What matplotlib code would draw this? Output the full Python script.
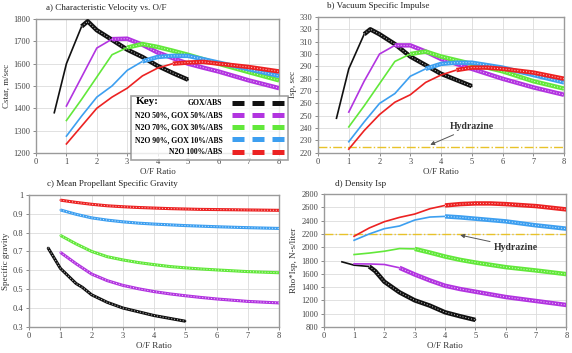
import matplotlib.pyplot as plt
import matplotlib.ticker as mticker
from matplotlib.lines import Line2D

plt.rcParams['font.family'] = ['Liberation Serif', 'DejaVu Serif']

# ---- data ----
names = ['GOX/ABS', 'N2O 50%, GOX 50%/ABS', 'N2O 70%, GOX 30%/ABS',
         'N2O 90%, GOX 10%/ABS', 'N2O 100%/ABS']
colors = ['#111111', '#b234e0', '#62e83a', '#3d9ff0', '#ec2222']

x_gox = [0.6, 1.0, 1.5, 1.7, 2.0, 2.5, 3.0, 3.5, 4.0, 4.5, 5.0]
x_mix = [1.0, 1.5, 2.0, 2.5, 3.0, 3.5, 4.0, 4.5, 5.0, 5.5, 6.0, 7.0, 8.0]

# a) characteristic velocity, m/s
cstar_gox = [1380, 1600, 1767, 1790, 1750, 1707, 1663, 1630, 1590, 1558, 1528]
cstar_n50 = [1410, 1540, 1670, 1710, 1712, 1685, 1650, 1625, 1600, 1582, 1565, 1525, 1490]
cstar_n70 = [1345, 1440, 1540, 1640, 1672, 1688, 1675, 1658, 1640, 1620, 1600, 1562, 1525]
cstar_n90 = [1275, 1365, 1450, 1500, 1570, 1610, 1630, 1635, 1635, 1620, 1605, 1575, 1545]
cstar_n100 = [1240, 1320, 1400, 1450, 1490, 1545, 1580, 1600, 1605, 1608, 1600, 1585, 1565]

# b) vacuum Isp, s
isp_gox = [248, 288, 316, 320, 316, 308, 298, 291, 284, 279, 274]
isp_n50 = [253, 278, 300, 307, 307, 302, 296, 292, 288, 284, 280, 273, 267]
isp_n70 = [241, 258, 276, 294, 300, 302, 298, 295, 292, 289, 286, 278, 272]
isp_n90 = [229, 245, 260, 268, 282, 288, 292, 293, 293, 291, 289, 283, 277]
isp_n100 = [223, 238, 251, 261, 267, 277, 283, 287, 289, 289, 288, 285, 280]

# c) mean propellant specific gravity
sg_gox = [0.72, 0.61, 0.53, 0.51, 0.47, 0.43, 0.40, 0.38, 0.36, 0.345, 0.33]
sg_n50 = [0.695, 0.635, 0.58, 0.545, 0.52, 0.502, 0.487, 0.475, 0.465, 0.456, 0.448, 0.435, 0.427]
sg_n70 = [0.785, 0.74, 0.70, 0.672, 0.655, 0.641, 0.63, 0.62, 0.613, 0.607, 0.602, 0.593, 0.587]
sg_n90 = [0.92, 0.897, 0.878, 0.866, 0.857, 0.85, 0.845, 0.841, 0.837, 0.834, 0.831, 0.826, 0.822]
sg_n100 = [0.972, 0.96, 0.95, 0.942, 0.937, 0.933, 0.93, 0.927, 0.925, 0.923, 0.922, 0.92, 0.918]

# d) density Isp, N-s/liter
disp_gox = [1780, 1730, 1710, 1640, 1480, 1320, 1200, 1120, 1020, 960, 905]
disp_n50 = [1750, 1748, 1740, 1690, 1590, 1500, 1420, 1370, 1330, 1290, 1250, 1190, 1130]
disp_n70 = [1890, 1912, 1940, 1980, 1975, 1920, 1860, 1810, 1770, 1735, 1700, 1650, 1595]
disp_n90 = [2105, 2200, 2280, 2320, 2410, 2455, 2465, 2450, 2430, 2410, 2390, 2330, 2280]
disp_n100 = [2165, 2290, 2385, 2450, 2500, 2580, 2630, 2650, 2660, 2660, 2650, 2620, 2570]

hydrazine_isp = 225
hydrazine_disp = 2200

panels = [
    ('a) Characteristic Velocity vs. O/F', 'Cstar, m/sec',
     [cstar_gox, cstar_n50, cstar_n70, cstar_n90, cstar_n100], (1200, 1800), 100),
    ('b) Vacuum Specific Impulse', 'Isp, sec',
     [isp_gox, isp_n50, isp_n70, isp_n90, isp_n100], (220, 330), 10),
    ('c) Mean Propellant Specific Gravity', 'Specific gravity',
     [sg_gox, sg_n50, sg_n70, sg_n90, sg_n100], (0.3, 1.0), 0.1),
    ('d) Density Isp', 'Rho*Isp, N-s/liter',
     [disp_gox, disp_n50, disp_n70, disp_n90, disp_n100], (800, 2800), 200),
]
# where the thick (dotted) part of each curve starts
thick_from = [
    [1.5, 2.5, 3.0, 3.5, 4.5],
    [1.5, 2.5, 3.0, 3.5, 4.5],
    [0.6, 1.0, 1.0, 1.0, 1.0],
    [1.5, 2.5, 3.0, 4.0, 4.0],
]
boxes = [
    [0.063, 0.567, 0.425, 0.379],
    [0.556, 0.567, 0.430, 0.385],
    [0.051, 0.074, 0.437, 0.374],
    [0.566, 0.074, 0.424, 0.376],
]
title_dx = [0.04, 0.035, 0.07, 0.045]

fig = plt.figure(figsize=(5.72, 3.53), dpi=100)
fig.patch.set_facecolor('white')

for k, (title, ylabel, series, ylim, step) in enumerate(panels):
    ax = fig.add_axes(boxes[k])
    for i, ys in enumerate(series):
        xs = x_gox if i == 0 else x_mix
        ax.plot(xs, ys, color=colors[i], lw=1.2, zorder=3)
        xt = [x for x in xs if x >= thick_from[k][i]]
        yt = ys[len(xs) - len(xt):]
        lw = 2.2 if k == 2 else 3.2
        ax.plot(xt, yt, color=colors[i], lw=lw, zorder=3 + i * 0.01,
                solid_capstyle='butt')
        ax.plot(xt, yt, color='white', lw=0.7, ls=(0, (1, 2)), alpha=0.8,
                zorder=3 + i * 0.01)
    ax.set_xlim(0, 8)
    ax.set_ylim(*ylim)
    ax.xaxis.set_major_locator(mticker.MultipleLocator(1))
    ax.yaxis.set_major_locator(mticker.MultipleLocator(step))
    ax.yaxis.set_major_formatter(mticker.FuncFormatter(lambda v, p: '%g' % round(v, 2)))
    ax.grid(True, color='#dcdcdc', lw=0.6)
    ax.set_axisbelow(True)
    for s in ax.spines.values():
        s.set_color('#9a9a9a')
        s.set_linewidth(1.0)
    ax.tick_params(labelsize=6, length=2.5, width=0.6, color='#777777',
                   pad=1.5, labelcolor='#444444')
    ax.set_xlabel('O/F Ratio', fontsize=6.5, labelpad=1, color='#333333')
    ax.set_ylabel(ylabel, fontsize=6.5, labelpad=2, color='#333333')
    ax.text(title_dx[k], 1.05, title, transform=ax.transAxes, fontsize=6.5,
            color='#222222', va='bottom', ha='left')

    if k == 1:
        ax.axhline(hydrazine_isp, color='#e8c22a', lw=1.0, ls='-.', zorder=2)
        ax.annotate('Hydrazine', xy=(3.65, 226.5), xytext=(5.0, 241),
                    fontsize=7, fontweight='bold', ha='center', va='center',
                    color='#333333',
                    arrowprops=dict(arrowstyle='-|>', color='#555555', lw=0.7,
                                    mutation_scale=6, shrinkA=1, shrinkB=0))
    if k == 3:
        ax.axhline(hydrazine_disp, color='#e8c22a', lw=1.0, ls='-.', zorder=2)
        ax.annotate('Hydrazine', xy=(4.5, 2183), xytext=(6.35, 2000),
                    fontsize=7, fontweight='bold', ha='center', va='center',
                    color='#333333',
                    arrowprops=dict(arrowstyle='-|>', color='#555555', lw=0.7,
                                    mutation_scale=6, shrinkA=1, shrinkB=0))

# legend (Key) over panel a
handles = [Line2D([], [], color=c, lw=3.6, ls=(0, (2.4, 1.6))) for c in colors]
leg = fig.legend(handles, names, loc='upper left', bbox_to_anchor=(0.222, 0.74),
                 markerfirst=False, handlelength=6.9, handletextpad=1.2,
                 frameon=True, fancybox=False, borderpad=0.5,
                 labelspacing=0.55, prop={'weight': 'bold', 'size': 5.5})
leg.get_frame().set_edgecolor('#8a8a8a')
leg.get_frame().set_linewidth(1.2)
fig.text(0.238, 0.712, 'Key:', fontsize=8, fontweight='bold', va='center',
         zorder=10)

fig.savefig('out.png', dpi=100)
